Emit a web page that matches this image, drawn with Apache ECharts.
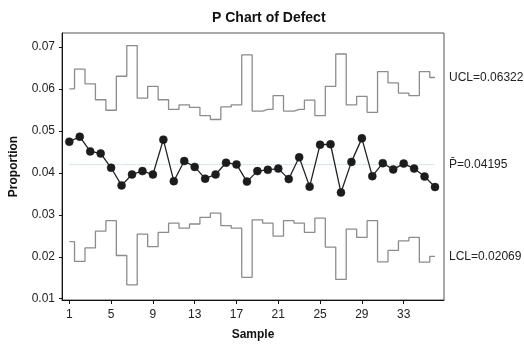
<!DOCTYPE html>
<html>
<head>
<meta charset="utf-8">
<script src="https://cdn.jsdelivr.net/npm/echarts@6/dist/echarts.min.js"></script>
<style>
  html, body { margin: 0; padding: 0; background: #fff; }
  #chart { width: 524px; height: 346px; }
</style>
</head>
<body>
<div id="chart"></div>
<script>
// sample numbers 1..36
const samples = [1, 2, 3, 4, 5, 6, 7, 8, 9, 10, 11, 12, 13, 14, 15, 16, 17, 18,
  19, 20, 21, 22, 23, 24, 25, 26, 27, 28, 29, 30, 31, 32, 33, 34, 35, 36];

const proportion = [0.0474, 0.0486, 0.0451, 0.0446, 0.0412, 0.0370, 0.0396, 0.0404, 0.0396,
  0.0479, 0.0380, 0.0428, 0.0414, 0.0386, 0.0396, 0.0424, 0.0420, 0.0379,
  0.0404, 0.0407, 0.0410, 0.0385, 0.0437, 0.0367, 0.0467, 0.0468, 0.0353,
  0.0426, 0.0482, 0.0392, 0.0423, 0.0408, 0.0422, 0.0410, 0.0391, 0.0366];

const ucl = [0.0600, 0.0647, 0.0612, 0.0574, 0.0549, 0.0630, 0.0703, 0.0578, 0.0606,
  0.0574, 0.0551, 0.0562, 0.0556, 0.0536, 0.0527, 0.0557, 0.0562, 0.0681,
  0.0547, 0.0551, 0.0584, 0.0547, 0.0551, 0.0573, 0.0536, 0.0606, 0.0683,
  0.0562, 0.0582, 0.0544, 0.0641, 0.0614, 0.0590, 0.0584, 0.0641, 0.0627];

const lcl = [0.0236, 0.0189, 0.0221, 0.0261, 0.0286, 0.0203, 0.0133, 0.0254, 0.0224,
  0.0258, 0.0280, 0.0268, 0.0278, 0.0294, 0.0304, 0.0274, 0.0268, 0.0151,
  0.0288, 0.0280, 0.0249, 0.0286, 0.0280, 0.0258, 0.0292, 0.0223, 0.0146,
  0.0266, 0.0246, 0.0286, 0.0188, 0.0215, 0.0238, 0.0246, 0.0187, 0.0201];

const xTicks = [1, 5, 9, 13, 17, 21, 25, 29, 33];
const yTicks = [0.01, 0.02, 0.03, 0.04, 0.05, 0.06, 0.07];

const pBar = 0.04195;
const uclText = "UCL=0.06322";
const pBarText = "P\u0304=0.04195";
const lclText = "LCL=0.02069";

const font = "Liberation Sans, Arial, sans-serif";
const pair = (arr) => samples.map((s, i) => [s, arr[i]]);

const labelStyle = (text) => ({
  show: true,
  formatter: text,
  distance: 14,
  fontFamily: font,
  fontSize: 12,
  color: "#222",
});

const chart = echarts.init(document.getElementById("chart"), null, { renderer: "canvas" });

chart.setOption({
  animation: false,
  backgroundColor: "#fff",
  title: {
    text: "P Chart of Defect",
    left: 207,
    top: 6,
    textStyle: { fontFamily: font, fontSize: 14, fontWeight: "bold", color: "#111" },
  },
  grid: {
    left: 61,
    right: 80,
    top: 33,
    bottom: 45,
    show: true,
    borderColor: "#555",
    borderWidth: 1,
    backgroundColor: "#fff",
  },
  xAxis: {
    type: "value",
    min: 0.3,
    max: 36.86,
    name: "Sample",
    nameLocation: "middle",
    nameGap: 29,
    nameTextStyle: { fontFamily: font, fontSize: 12, fontWeight: "bold", color: "#111" },
    axisLine: { show: true, onZero: false, lineStyle: { color: "#111", width: 1 } },
    axisTick: { show: true, length: 4, customValues: xTicks, lineStyle: { color: "#111" } },
    axisLabel: {
      customValues: xTicks,
      margin: 9,
      fontFamily: font,
      fontSize: 12,
      color: "#222",
    },
    splitLine: { show: false },
  },
  yAxis: {
    type: "value",
    min: 0.0097,
    max: 0.0733,
    name: "Proportion",
    nameLocation: "middle",
    nameRotate: 90,
    nameGap: 42,
    nameTextStyle: { fontFamily: font, fontSize: 12, fontWeight: "bold", color: "#111" },
    axisLine: { show: true, onZero: false, lineStyle: { color: "#111", width: 1 } },
    axisTick: { show: true, length: 3, customValues: yTicks, lineStyle: { color: "#111" } },
    axisLabel: {
      customValues: yTicks,
      margin: 7,
      fontFamily: font,
      fontSize: 12,
      color: "#222",
      formatter: (v) => v.toFixed(2),
    },
    splitLine: { show: false },
  },
  series: [
    {
      name: "UCL",
      type: "line",
      step: "middle",
      data: pair(ucl),
      symbol: "none",
      lineStyle: { color: "#8c8c8c", width: 1.3 },
      endLabel: labelStyle(uclText),
      z: 2,
    },
    {
      name: "LCL",
      type: "line",
      step: "middle",
      data: pair(lcl),
      symbol: "none",
      lineStyle: { color: "#8c8c8c", width: 1.3 },
      endLabel: labelStyle(lclText),
      z: 2,
    },
    {
      name: "P-bar",
      type: "line",
      data: samples.map((s) => [s, pBar]),
      symbol: "none",
      lineStyle: { color: "#a9cfd6", type: "dotted", width: 1 },
      endLabel: labelStyle(pBarText),
      z: 1,
    },
    {
      name: "Proportion",
      type: "line",
      data: pair(proportion),
      symbol: "circle",
      symbolSize: 8,
      showAllSymbol: true,
      itemStyle: { color: "#1c1c1c", borderColor: "#1c1c1c", borderWidth: 0.5, opacity: 1 },
      lineStyle: { color: "#222", width: 1.3 },
      emphasis: { disabled: true },
      z: 3,
    },
  ],
});
</script>
</body>
</html>
